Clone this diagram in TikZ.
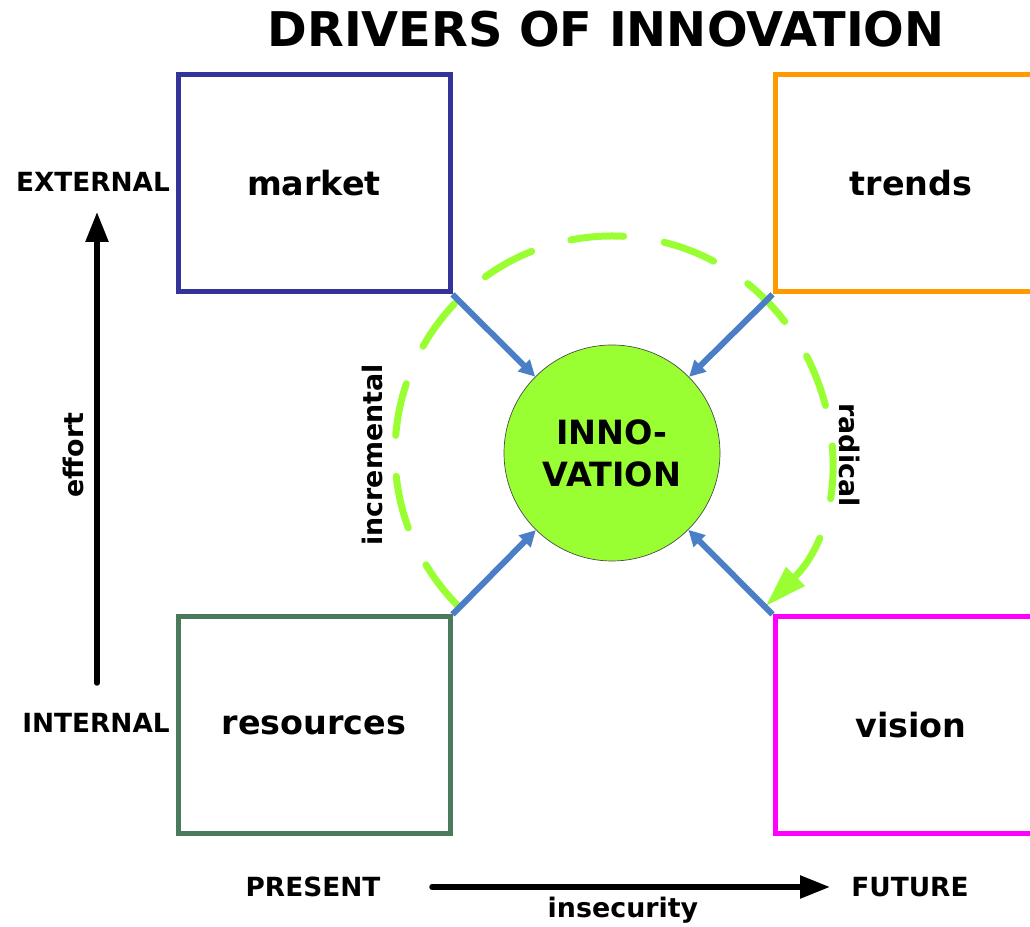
\documentclass[tikz,border=0pt]{standalone}
\usepackage{fontspec}
\setmainfont{DejaVu Sans}
\usetikzlibrary{arrows.meta}
\definecolor{marketblue}{HTML}{333399}
\definecolor{trendorange}{HTML}{FF9900}
\definecolor{resgreen}{HTML}{4A7A5C}
\definecolor{visionpink}{HTML}{FF00FF}
\definecolor{linkblue}{HTML}{4A7EC7}
\definecolor{lime}{HTML}{99FF33}
\tikzset{
	driver/.style={draw, line width=0.1cm, minimum width=5.44cm, minimum height=4.34cm, font=\bfseries\fontsize{19}{23}\selectfont},
	axislabel/.style={font=\bfseries\fontsize{15}{18}\selectfont},
	sidelabel/.style={font=\bfseries\fontsize{15.3}{18}\selectfont},
	feed/.style={linkblue, line width=0.12cm, -{Triangle[length=0.32cm,width=0.32cm]}},
	axisarrow/.style={line width=0.11cm, line cap=round, -{Triangle[length=0.6cm,width=0.44cm]}},
}

\begin{document}
\begin{tikzpicture}
			%%%%% START %%%%%
			
			\useasboundingbox (0, 0) rectangle (20.6, 18.54);
			
			\node[font=\bfseries\fontsize{27.2}{32}\selectfont] (title) at (12.12, 17.96) {DRIVERS OF INNOVATION};
			
			% the four drivers
			\node[driver, draw=marketblue] (market) at (6.28, 14.87) {market};
			\node[driver, draw=trendorange] (trends) at (18.22, 14.87) {trends};
			\node[driver, draw=resgreen] (resources) at (6.28, 4.03) {resources};
			\node[driver, draw=visionpink] (vision) at (18.22, 4.03) {vision};
			
			% dashed ring round the centre
			\draw[lime, line width=0.14cm, line cap=round, dash pattern=on 1.06cm off 0.82cm, -{Triangle[length=0.85cm,width=0.5cm]}]
				(12.24, 9.48) ++(225:4.34) arc (225:-45:4.34);
			
			\node[circle, draw=black!70, thin, fill=lime, minimum size=4.32cm, align=center, font=\bfseries\fontsize{19}{24}\selectfont] (innov) at (12.24, 9.48) {INNO-\\VATION};
			
			\draw[feed] (market.south east) -- (innov);
			\draw[feed] (trends.south west) -- (innov);
			\draw[feed] (resources.north east) -- (innov);
			\draw[feed] (vision.north west) -- (innov);
			
			\node[sidelabel, rotate=90] (incr) at (7.44, 9.44) {incremental};
			\node[sidelabel, rotate=-90] (rad) at (17.0, 9.44) {radical};
			
			% effort axis
			\node[axislabel] (ext) at (1.86, 14.90) {EXTERNAL};
			\node[axislabel] (int) at (1.92, 4.08) {INTERNAL};
			\coordinate (effortlow) at (1.94, 4.88);
			\coordinate (efforthigh) at (1.94, 14.30);
			\draw[axisarrow] (effortlow) -- (efforthigh);
			\node[sidelabel, rotate=90] (effort) at (1.46, 9.44) {effort};
			
			% insecurity axis
			\node[axislabel] (present) at (6.26, 0.80) {PRESENT};
			\node[axislabel] (future) at (18.2, 0.80) {FUTURE};
			\coordinate (nowpt) at (8.64, 0.80);
			\coordinate (laterpt) at (16.6, 0.80);
			\draw[axisarrow] (nowpt) -- (laterpt);
			\node[sidelabel] (insec) at (12.46, 0.34) {insecurity};
			
			%%%%% END %%%%%
\end{tikzpicture}
\end{document}
